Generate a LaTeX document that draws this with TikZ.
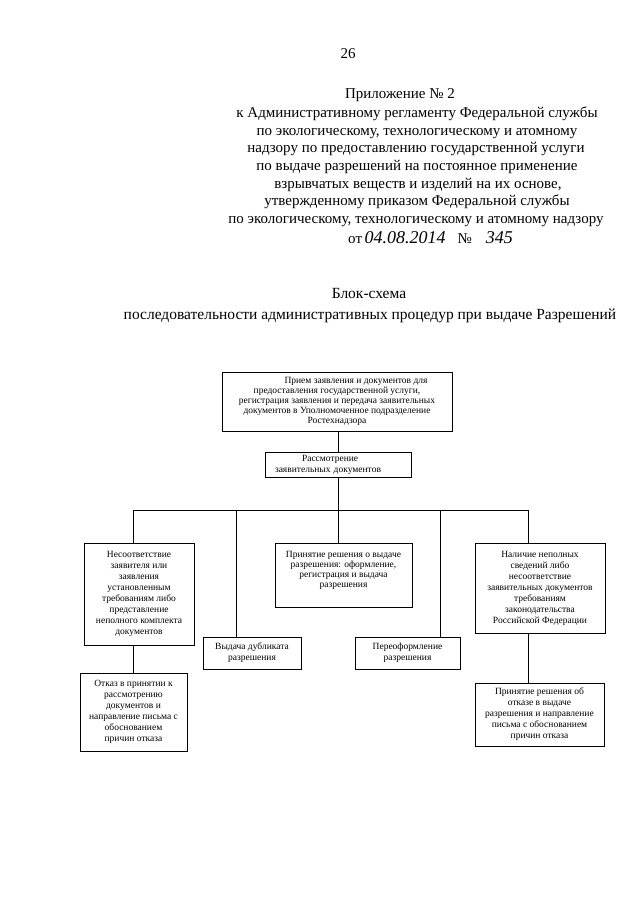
\documentclass[tikz,border=0pt]{standalone}
\usepackage{fontspec}
\setmainfont{Liberation Serif}
\begin{document}
\begin{tikzpicture}[x=1pt,y=-1pt,
  hdr/.style={inner sep=0pt, anchor=base, font=\fontsize{15}{18}\selectfont},
  ttl/.style={inner sep=0pt, anchor=base, font=\fontsize{15.5}{18}\selectfont},
  hand/.style={font=\fontsize{18}{18}\selectfont\itshape},
  box/.style={draw, line width=0.9pt, inner sep=0pt, align=center,
    font=\fontsize{9.5}{11}\selectfont},
  tight/.style={font=\fontsize{9.5}{10}\selectfont},
  link/.style={line width=0.7pt}]
\useasboundingbox[fill=white] (0,0) rectangle (640,905);

% header
\node[hdr] (pg) at (348,58) {26};
\node[hdr] (h1) at (400,98) {Приложение № 2};
\node[hdr] (h2) at (417,117) {к Административному регламенту Федеральной службы};
\node[hdr] (h3) at (417,135) {по экологическому, технологическому и атомному};
\node[hdr] (h4) at (416,152) {надзору по предоставлению государственной услуги};
\node[hdr] (h5) at (417,170) {по выдаче разрешений на постоянное применение};
\node[hdr] (h6) at (418,188) {взрывчатых веществ и изделий на их основе,};
\node[hdr] (h7) at (417,205) {утвержденному приказом Федеральной службы};
\node[hdr] (h8) at (416,223) {по экологическому, технологическому и атомному надзору};
\node[hdr, anchor=base west] (h9) at (348,243)
  {от\,{\fontsize{18}{18}\selectfont\itshape 04.08.2014}\hspace{12pt}№\hspace{14pt}{\fontsize{18}{18}\selectfont\itshape 345}};

% title
\node[ttl] (t1) at (369,298) {Блок-схема};
\node[ttl] (t2) at (370,319) {последовательности административных процедур при выдаче Разрешений};

% boxes
\node[box, tight, minimum width=230pt, minimum height=59pt] (b1) at (337,401.5)
  {\hspace*{38pt}Прием заявления и документов для\\предоставления государственной услуги,\\регистрация заявления и передача заявительных\\документов в Уполномоченное подразделение\\Ростехнадзора};
\node[box, align=left, text width=126pt, inner xsep=10pt, minimum height=25pt] (b2) at (338,464.5)
  {\hspace*{27pt}Рассмотрение\\заявительных документов};
\node[box, minimum width=110pt, minimum height=102pt] (bL) at (139,594)
  {Несоответствие\\заявителя или\\заявления\\установленным\\требованиям либо\\представление\\неполного комплекта\\документов};
\node[box, minimum width=98pt, minimum height=32pt] (bD) at (252,653)
  {Выдача дубликата\\разрешения};
\node[box, tight, minimum width=137pt, minimum height=64pt, text depth=0pt] (bM) at (343.5,575)
  {Принятие решения о выдаче\\разрешения: оформление,\\регистрация и выдача\\разрешения\\[2pt]};
\node[box, minimum width=105pt, minimum height=32pt] (bP) at (407.5,653)
  {Переоформление\\разрешения};
\node[box, minimum width=130pt, minimum height=90pt] (bR) at (540,588)
  {Наличие неполных\\сведений либо\\несоответствие\\заявительных документов\\требованиям\\законодательства\\Российской Федерации};
\node[box, minimum width=107pt, minimum height=78pt] (bLL) at (133.5,712)
  {Отказ в принятии к\\рассмотрению\\документов и\\направление письма с\\обоснованием\\причин отказа};
\node[box, minimum width=129pt, minimum height=63pt] (bRR) at (539.5,714.5)
  {Принятие решения об\\отказе в выдаче\\разрешения и направление\\письма с обоснованием\\причин отказа};

% bus junctions
\coordinate (jL) at (133,510);
\coordinate (jD) at (236,510);
\coordinate (jC) at (338,510);
\coordinate (jP) at (440,510);
\coordinate (jR) at (528,510);

% connectors
\draw[link] (b1.south -| jC) -- (b2.north -| jC);
\draw[link] (b2.south -| jC) -- (jC);
\draw[link] (jL) -- (jR);
\draw[link] (jL) -- (jL |- bL.north);
\draw[link] (jD) -- (jD |- bD.north);
\draw[link] (jC) -- (jC |- bM.north);
\draw[link] (jP) -- (jP |- bP.north);
\draw[link] (jR) -- (jR |- bR.north);
\draw[link] (bL.south -| jL) -- (bLL.north -| jL);
\draw[link] (bR.south -| jR) -- (bRR.north -| jR);
\end{tikzpicture}
\end{document}
